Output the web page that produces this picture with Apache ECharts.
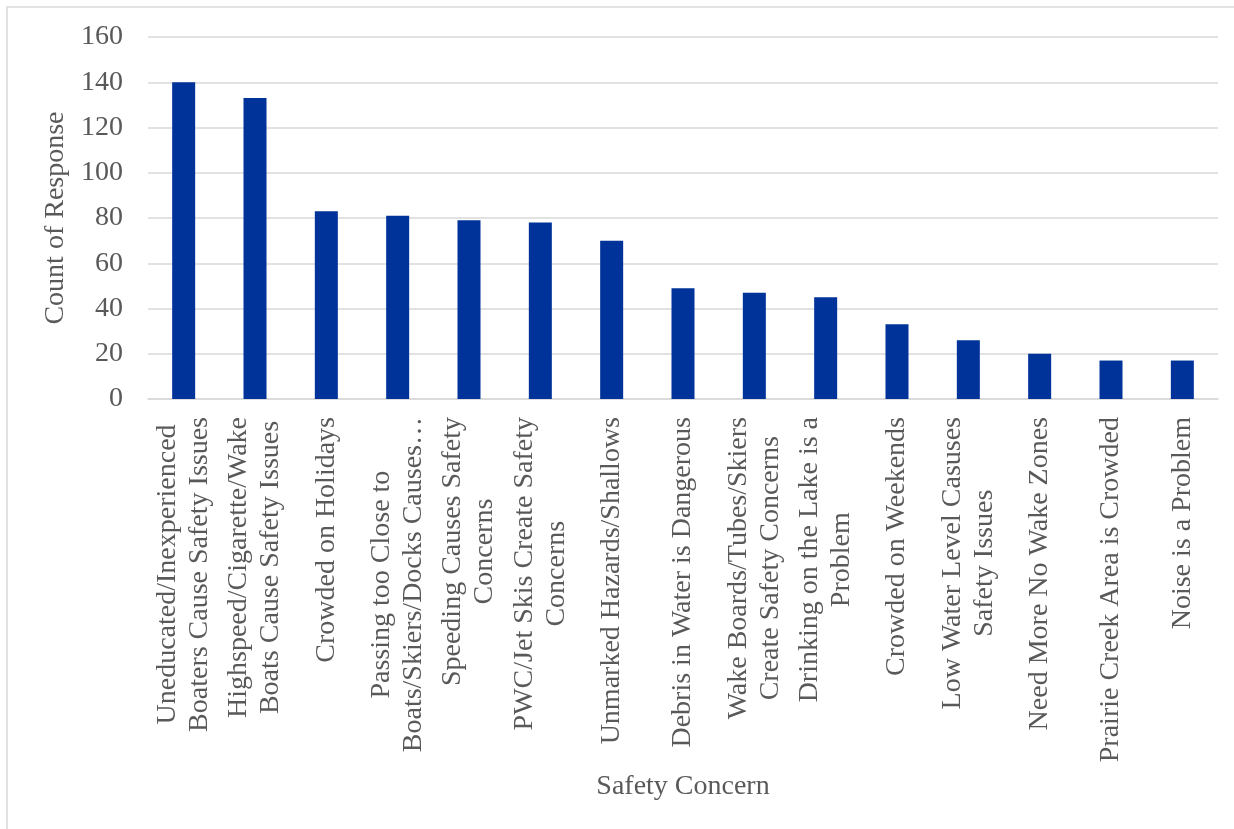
<!DOCTYPE html>
<html>
<head>
<meta charset="utf-8">
<style>
  html, body { margin: 0; padding: 0; background: #ffffff; }
  #chart { width: 1234px; height: 829px; }
</style>
<script src="https://cdn.jsdelivr.net/npm/echarts@6/dist/echarts.min.js"></script>
</head>
<body>
<div id="chart"></div>
<script>
// Survey responses: safety concerns on the lake
const categories = [
  'Uneducated/Inexperienced\nBoaters Cause Safety Issues',
  'Highspeed/Cigarette/Wake\nBoats Cause Safety Issues',
  'Crowded on Holidays',
  'Passing too Close to\nBoats/Skiers/Docks Causes\u2026',
  'Speeding Causes Safety\nConcerns',
  'PWC/Jet Skis Create Safety\nConcerns',
  'Unmarked Hazards/Shallows',
  'Debris in Water is Dangerous',
  'Wake Boards/Tubes/Skiers\nCreate Safety Concerns',
  'Drinking on the Lake is a\nProblem',
  'Crowded on Weekends',
  'Low Water Level Casuses\nSafety Issues',
  'Need More No Wake Zones',
  'Prairie Creek Area is Crowded',
  'Noise is a Problem'
];
const responseCounts = [140, 133, 83, 81, 79, 78, 70, 49, 47, 45, 33, 26, 20, 17, 17];
const yTicks = { min: 0, max: 160, interval: 20 };
const xAxisTitle = 'Safety Concern';
const yAxisTitle = 'Count of Response';

const FONT = "'Liberation Serif', 'DejaVu Serif', serif";
const TEXT = '#595959';
const LINE = '#d9d9d9';

const chart = echarts.init(document.getElementById('chart'), null, { renderer: 'canvas' });

chart.setOption({
  animation: false,
  backgroundColor: '#ffffff',
  textStyle: { fontFamily: FONT, color: TEXT },
  graphic: [{
    type: 'rect',
    shape: { x: 7, y: 7, width: 1240, height: 840 },
    style: { fill: null, stroke: LINE, lineWidth: 1.5 },
    silent: true
  }],
  grid: { left: 148, right: 16, top: 37, bottom: 430, containLabel: false },
  xAxis: {
    type: 'category',
    data: categories,
    name: xAxisTitle,
    nameLocation: 'middle',
    nameGap: 374,
    nameTextStyle: { fontFamily: FONT, fontSize: 28, color: TEXT },
    axisLine: { show: true, lineStyle: { color: LINE, width: 1.5 } },
    axisTick: { show: false },
    axisLabel: {
      interval: 0,
      rotate: 90,
      margin: 18,
      color: TEXT,
      fontFamily: FONT,
      fontSize: 28,
      lineHeight: 32,
      // each wrapped line is centred on the longest one
      formatter: (v) => v.split('\n').map((l) => '{c|' + l + '}').join('\n'),
      rich: {
        c: { align: 'center', fontFamily: FONT, fontSize: 28, lineHeight: 32, color: TEXT }
      }
    }
  },
  yAxis: {
    type: 'value',
    min: yTicks.min,
    max: yTicks.max,
    interval: yTicks.interval,
    name: yAxisTitle,
    nameLocation: 'middle',
    nameGap: 75,
    nameTextStyle: { fontFamily: FONT, fontSize: 28, color: TEXT },
    axisLine: { show: false },
    axisTick: { show: false },
    axisLabel: { margin: 25, color: TEXT, fontFamily: FONT, fontSize: 28 },
    splitLine: { show: true, lineStyle: { color: LINE, width: 1.5 } }
  },
  series: [{
    type: 'bar',
    data: responseCounts,
    barWidth: 23,
    itemStyle: { color: '#003399' }
  }]
});
</script>
</body>
</html>
